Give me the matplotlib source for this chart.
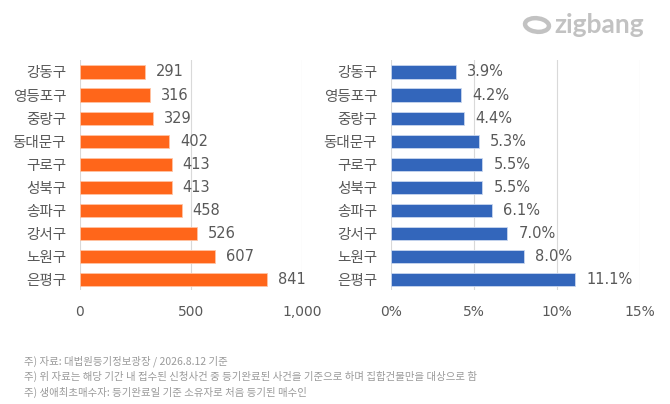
import matplotlib
matplotlib.use("Agg")
import matplotlib.pyplot as plt
from matplotlib.patches import Ellipse

plt.rcParams['font.family'] = ['Noto Sans CJK KR', 'DejaVu Sans']

districts_left = ['강동구', '영등포구', '중랑구', '동대문구', '구로구', '성북구', '송파구', '강서구', '노원구', '은평구']
counts = [291, 316, 329, 402, 413, 413, 458, 526, 607, 841]
left_ticks = [0, 500, 1000]
left_ticklabels = ['0', '500', '1,000']

districts_right = ['강동구', '영등포구', '중랑구', '동대문구', '구로구', '성북구', '송파구', '강서구', '노원구', '은평구']
shares = [3.9, 4.2, 4.4, 5.3, 5.5, 5.5, 6.1, 7.0, 8.0, 11.1]
right_ticks = [0, 5, 10, 15]
right_ticklabels = ['0%', '5%', '10%', '15%']

notes = [
    '주) 자료: 대법원등기정보광장 / 2026.8.12 기준',
    '주) 위 자료는 해당 기간 내 접수된 신청사건 중 등기완료된 사건을 기준으로 하며 집합건물만을 대상으로 함',
    '주) 생애최초매수자: 등기완료일 기준 소유자로 처음 등기된 매수인',
]

ORANGE = '#FF661A'
BLUE = '#3366BB'
TXT = '#595959'
GRID = '#D9D9D9'

fig = plt.figure(figsize=(6.70, 4.04), dpi=100)
fig.patch.set_facecolor('white')

ax1 = fig.add_axes([80/670, 1-290/404, 222/670, 230/404])
ax2 = fig.add_axes([391/670, 1-290/404, 249/670, 230/404])

def style(ax, cats, vals, color, ticks, ticklabels, xmax, fmt):
    y = list(range(len(cats)))
    ax.barh(y, vals, height=0.57, color=color, edgecolor='#c9d6ef' if color == BLUE else '#ffc3a3',
            linewidth=0.6, zorder=3)
    ax.set_ylim(9.45, -0.52)
    ax.set_xlim(0, xmax)
    ax.set_xticks(ticks)
    ax.set_xticklabels(ticklabels)
    ax.set_yticks(y)
    ax.set_yticklabels(cats)
    for s in ax.spines.values():
        s.set_visible(False)
    ax.grid(axis='x', color=GRID, linewidth=0.8, zorder=0)
    ax.tick_params(axis='both', length=0, colors=TXT, labelsize=10.5)
    ax.tick_params(axis='x', pad=11, labelsize=10)
    ax.tick_params(axis='y', pad=10)
    for yi, v in zip(y, vals):
        ax.annotate(fmt(v), xy=(v, yi), xytext=(8, 0), textcoords='offset points',
                    va='center', ha='left', fontsize=10.5, color=TXT,
                    family=['DejaVu Sans'])

style(ax1, districts_left, counts, ORANGE, left_ticks, left_ticklabels, 1000, lambda v: f'{v:,}')
style(ax2, districts_right, shares, BLUE, right_ticks, right_ticklabels, 15, lambda v: f'{v:.1f}%')

for lab in ax1.get_xticklabels() + ax2.get_xticklabels():
    lab.set_family(['DejaVu Sans'])

for i, t in enumerate(notes):
    fig.text(24/670, 1-(361 + i*15.7)/404, t, fontsize=7.5, color='#9a9a9a', va='center', ha='left')

# logo
fig.text(554/670, 1-25/404, 'zigbang', fontsize=19, fontweight='bold', color='#C2C2C2',
         va='center', ha='left', family=['Lato', 'DejaVu Sans'])
fig.patches.append(Ellipse((537/670, 1-25/404), 25/670, 13/404, angle=-35, fill=False,
                           edgecolor='#C2C2C2', linewidth=3.2, transform=fig.transFigure, figure=fig))

fig.savefig('out.png', dpi=100)
